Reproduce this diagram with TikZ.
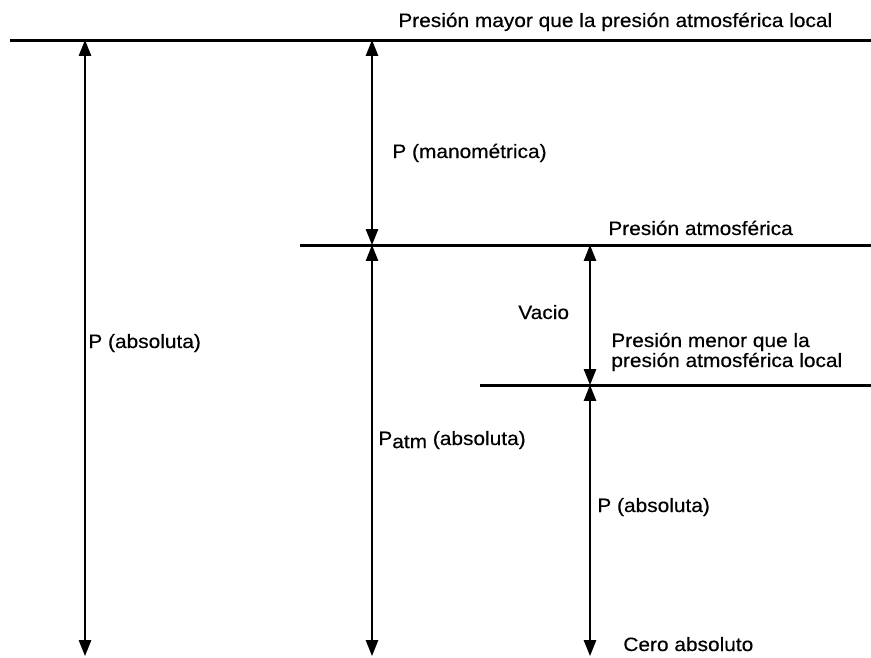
\documentclass[tikz,border=0pt]{standalone}
\usepackage{fontspec}
\setmainfont{Liberation Sans}[FakeStretch=1.08, FakeBold=0.4]
\usetikzlibrary{arrows.meta, positioning}
\tikzset{
    level/.style={line width=1.7pt},
    dim/.style={{Triangle[length=9pt,width=7pt]}-{Triangle[length=9pt,width=7pt]}, line width=0.8pt},
    lbl/.style={anchor=base west, inner sep=0pt, font=\fontsize{11}{9}\selectfont, align=left}
}

\begin{document}
\begin{tikzpicture}[x=0.02cm, y=-0.02cm]
\useasboundingbox (0,0) rectangle (871,657);

% pressure levels
\coordinate (topL) at (10,40);   \coordinate (topR) at (871,40);
\coordinate (atmL) at (300,245); \coordinate (atmR) at (871,245);
\coordinate (lowL) at (480,385); \coordinate (lowR) at (871,385);

\draw[level] (topL) -- (topR);
\draw[level] (atmL) -- (atmR);
\draw[level] (lowL) -- (lowR);

% arrow ends
\coordinate (a1) at (85,40);   \coordinate (a1z) at (85,656);
\coordinate (m1) at (372,40);  \coordinate (m2) at (372,245);
\coordinate (m3) at (372,656);
\coordinate (v1) at (590,245); \coordinate (v2) at (590,385);
\coordinate (v3) at (590,656);

\draw[dim] (a1) -- (a1z);
\draw[dim] (m1) -- (m2);
\draw[dim] (m2) -- (m3);
\draw[dim] (v1) -- (v2);
\draw[dim] (v2) -- (v3);

% level texts
\node (ttop) [lbl] at (398,27) {Presión mayor que la presión atmosférica local};
\node (tatm) [lbl] at (608,235) {Presión atmosférica};
\node (tlow) [lbl] at (611,367) {Presión menor que la\\presión atmosférica local};
\node (tcero) [lbl] at (623,651) {Cero absoluto};

% arrow texts
\node (lman) [lbl] at (392,158) {P (manométrica)};
\node (labs) [lbl] at (88,348) {P (absoluta)};
\node (lvac) [lbl] at (518,319) {Vacio};
\node (lpatm) [lbl] at (378,445) {P\raisebox{-0.3ex}{atm} (absoluta)};
\node (labs2) [lbl] at (597,512) {P (absoluta)};

\end{tikzpicture}
\end{document}
